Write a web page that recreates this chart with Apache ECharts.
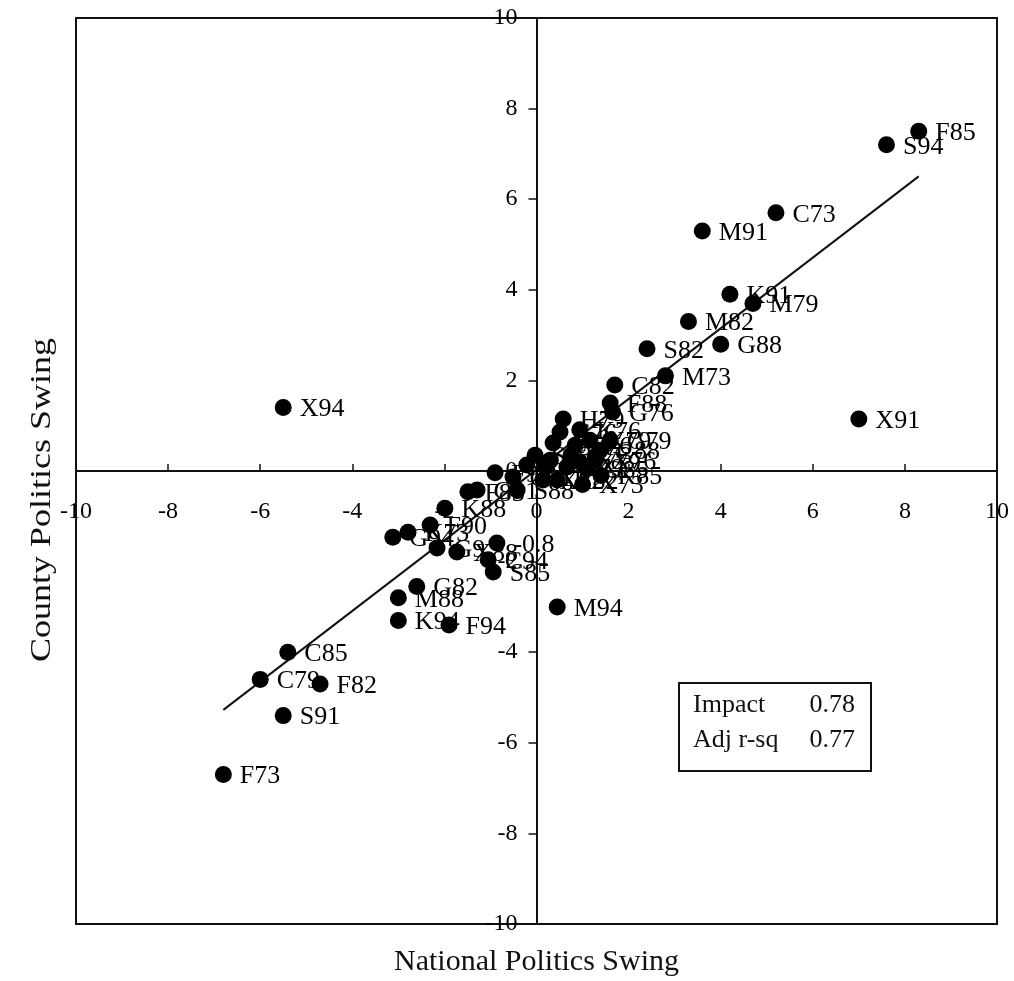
<!DOCTYPE html>
<html>
<head>
<meta charset="utf-8">
<script src="https://cdn.jsdelivr.net/npm/echarts@6/dist/echarts.min.js"></script>
<style>
  html, body { margin: 0; padding: 0; background: #fff; }
  #chart { width: 1014px; height: 981px; }
</style>
</head>
<body>
<div id="chart"></div>
<script>
// Swing observations: national swing (x), county swing (y), election code
const codes = [
  'F85', 'S94', 'C73', 'M91', 'K91', 'M79', 'M82', 'G88', 'S82', 'M73',
  'C82', 'F88', 'G76', 'H79', 'X94', 'X91', 'M94',
  'G82', 'M88', 'K94', 'F94', 'C85', 'C79', 'F82', 'S91', 'F73',
  // central cluster
  'K76', 'C76', 'S76', 'F76', 'C88', 'K79', 'G79', 'X76', 'X79', 'S79',
  'K85', 'G85', 'X85', 'S73', '0', 'X82', 'K82', 'C91', 'S88', 'F91',
  'G91', 'F79', 'F83', 'K88', 'F90', 'K73', 'G94', 'G9', '-0.8', 'X88',
  'S85', 'C94', 'G73', 'X73'
];
const nationalSwing = [
  8.3, 7.6, 5.2, 3.6, 4.2, 4.7, 3.3, 4.0, 2.4, 2.8,
  1.7, 1.6, 1.65, 0.58, -5.5, 7.0, 0.45,
  -2.6, -3.0, -3.0, -1.9, -5.4, -6.0, -4.7, -5.5, -6.8,
  0.94, 0.36, 0.51, 0.84, 1.38, 1.16, 1.6, 1.27, 0.94, 0.66,
  1.4, 1.1, 0.3, -0.03, -0.21, 0.14, 0.45, -0.51, -0.42, -0.9,
  -1.29, 0.2, -1.49, -1.99, -2.31, -2.79, -3.12, -2.16, -0.86, -1.73,
  -0.94, -1.05, 0.75, 1.0
];
const countySwing = [
  7.5, 7.2, 5.7, 5.3, 3.9, 3.7, 3.3, 2.8, 2.7, 2.1,
  1.9, 1.5, 1.3, 1.15, 1.4, 1.15, -3.0,
  -2.55, -2.8, -3.3, -3.4, -4.0, -4.6, -4.7, -5.4, -6.7,
  0.91, 0.62, 0.86, 0.57, 0.46, 0.68, 0.68, 0.24, 0.2, 0.09,
  -0.1, 0.05, 0.24, 0.35, 0.13, -0.2, -0.2, -0.13, -0.42, -0.04,
  -0.42, 0.1, -0.46, -0.82, -1.19, -1.35, -1.46, -1.7, -1.59, -1.79,
  -2.23, -1.96, 0.35, -0.3
];

// Regression summary
const IMPACT = 0.78;
const ADJ_R_SQ = 0.77;
const INTERCEPT = 0.03;

const axisTicks = [-10, 10, 2];
const serif = '"Liberation Serif", "DejaVu Serif", serif';

// Plot box in pixels
const GRID = { left: 76, right: 17, top: 18, bottom: 57 };
const W = 1014, H = 981;
const plotW = W - GRID.left - GRID.right;
const plotH = H - GRID.top - GRID.bottom;
// Axes cross at the origin: shift each axis from the box edge to the zero line
const range = axisTicks[1] - axisTicks[0];
const xAxisShift = -plotH * (0 - axisTicks[0]) / range;
const yAxisShift = -plotW * (0 - axisTicks[0]) / range;
const originX = GRID.left - yAxisShift;

const points = codes.map((c, i) => [nationalSwing[i], countySwing[i], c]);
const xMin = Math.min(...nationalSwing);
const xMax = Math.max(...nationalSwing);
const fitLine = [
  [xMin, INTERCEPT + IMPACT * xMin],
  [xMax, INTERCEPT + IMPACT * xMax]
];

const chart = echarts.init(document.getElementById('chart'), null, { renderer: 'canvas' });

const axisCommon = {
  type: 'value',
  min: axisTicks[0],
  max: axisTicks[1],
  interval: axisTicks[2],
  splitLine: { show: false },
  axisLine: { onZero: false, lineStyle: { color: '#111', width: 2 } }
};

chart.setOption({
  animation: false,
  backgroundColor: '#fff',
  grid: Object.assign({}, GRID, {
    show: true, borderColor: '#111', borderWidth: 2, backgroundColor: '#fff'
  }),
  xAxis: Object.assign({}, axisCommon, {
    position: 'bottom',
    offset: xAxisShift,
    axisTick: { inside: true, length: 7, lineStyle: { color: '#111', width: 1.5 } },
    axisLabel: { color: '#000', fontFamily: serif, fontSize: 24, margin: 29 }
  }),
  yAxis: Object.assign({}, axisCommon, {
    position: 'left',
    offset: yAxisShift,
    axisTick: { inside: false, length: 8, lineStyle: { color: '#111', width: 1.5 } },
    axisLabel: { color: '#000', fontFamily: serif, fontSize: 24, margin: 19 }
  }),
  series: [
    {
      type: 'line',
      data: fitLine,
      symbol: 'none',
      lineStyle: { color: '#111', width: 2 },
      z: 3
    },
    {
      type: 'scatter',
      data: points,
      symbolSize: 17,
      itemStyle: { color: '#000', opacity: 1 },
      z: 4,
      label: {
        show: true,
        position: 'right',
        distance: 8,
        offset: [0, 2],
        color: '#000',
        fontFamily: serif,
        fontSize: 26,
        formatter: p => p.data[2]
      }
    }
  ],
  graphic: [
    {
      type: 'text',
      x: originX,
      y: 962,
      style: {
        text: 'National Politics Swing', font: '30px ' + serif, fill: '#111',
        align: 'center', verticalAlign: 'middle'
      }
    },
    {
      type: 'text',
      x: 42,
      y: 500,
      rotation: Math.PI / 2,
      scaleX: 1.2,
      style: {
        text: 'County Politics Swing', font: '30px ' + serif, fill: '#111',
        align: 'center', verticalAlign: 'middle'
      }
    },
    {
      type: 'group',
      left: 678,
      top: 682,
      children: [
        { type: 'rect', shape: { x: 0, y: 0, width: 192, height: 88 },
          style: { fill: '#fff', stroke: '#111', lineWidth: 2 } },
        { type: 'text', x: 14, y: 22, style: { text: 'Impact', font: '26px ' + serif, fill: '#111', verticalAlign: 'middle' } },
        { type: 'text', x: 176, y: 22, style: { text: IMPACT.toFixed(2), font: '26px ' + serif, fill: '#111', align: 'right', verticalAlign: 'middle' } },
        { type: 'text', x: 14, y: 57, style: { text: 'Adj r-sq', font: '26px ' + serif, fill: '#111', verticalAlign: 'middle' } },
        { type: 'text', x: 176, y: 57, style: { text: ADJ_R_SQ.toFixed(2), font: '26px ' + serif, fill: '#111', align: 'right', verticalAlign: 'middle' } }
      ]
    }
  ]
});
</script>
</body>
</html>
